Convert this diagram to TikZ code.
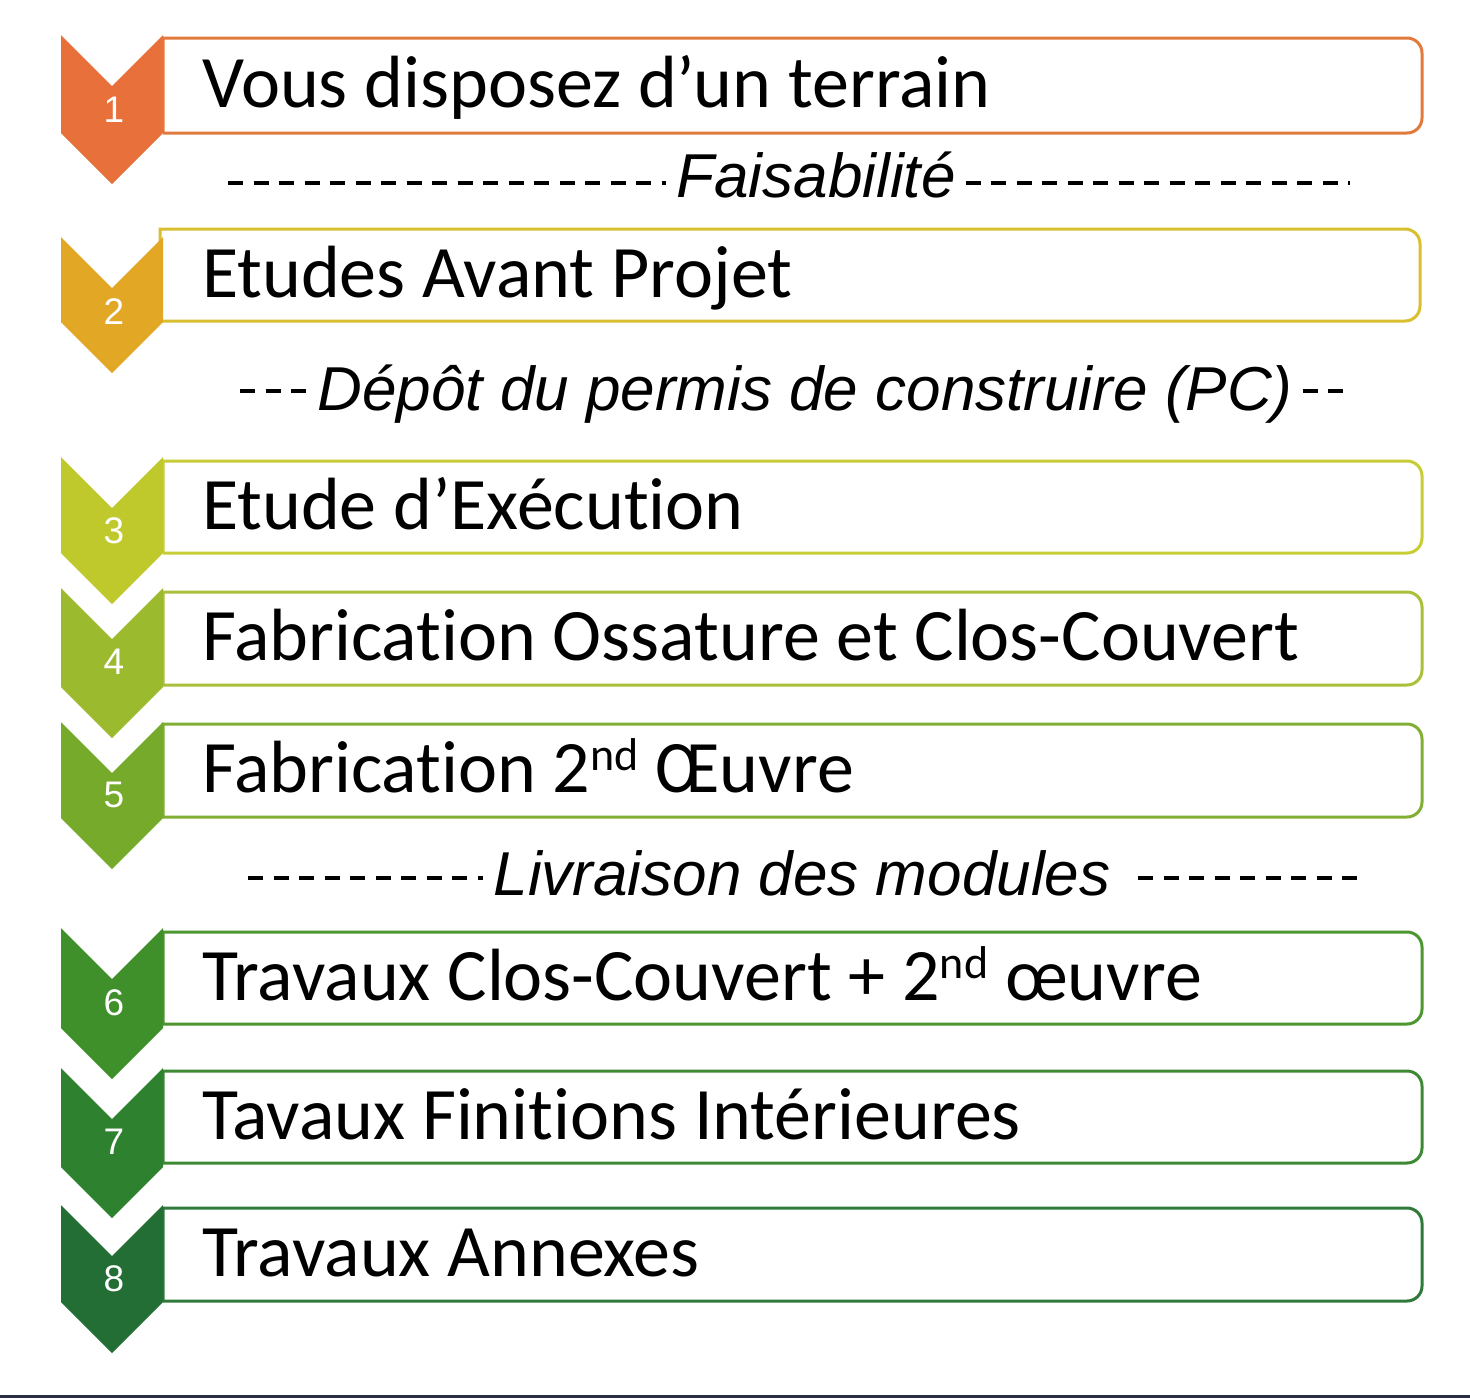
\documentclass[tikz,border=0pt]{standalone}
\usepackage{fontspec}
\setmainfont{Carlito}[Ligatures=NoCommon]
\newfontfamily\labelfont{Liberation Sans}
\usepackage{xcolor}
\definecolor{chev1}{HTML}{E8703A}
\definecolor{chev2}{HTML}{E2A725}
\definecolor{chev3}{HTML}{BFC92C}
\definecolor{chev4}{HTML}{9CBA2E}
\definecolor{chev5}{HTML}{76AA2A}
\definecolor{chev6}{HTML}{3F8F2A}
\definecolor{chev7}{HTML}{2E812F}
\definecolor{chev8}{HTML}{226E35}
\definecolor{line1}{HTML}{E27A3E}
\definecolor{line2}{HTML}{D9BE30}
\definecolor{line3}{HTML}{C8CD35}
\definecolor{line4}{HTML}{A9C03A}
\definecolor{line5}{HTML}{80AF33}
\definecolor{line6}{HTML}{4E962F}
\definecolor{line7}{HTML}{3D8934}
\definecolor{line8}{HTML}{2F7A3A}
\definecolor{rulecol}{HTML}{2A3042}
\newcommand{\nd}{\raisebox{22pt}{\fontsize{46}{46}\selectfont nd}}

\begin{document}
\begin{tikzpicture}[
    x=1pt, y=-1pt,
    stagebox/.style={line width=3pt},
    num/.style={text=white, inner sep=0pt, font=\labelfont\fontsize{37}{37}\selectfont},
    stage/.style={anchor=base west, inner sep=0pt, font=\fontsize{74}{74}\selectfont},
    phase/.style={anchor=base, inner xsep=10pt, inner ysep=0pt, font=\labelfont\itshape\fontsize{62}{62}\selectfont},
    dashline/.style={line width=3.5pt, dash pattern=on 15pt off 10.5pt}
]
    \fill[white] (0,0) rectangle (1470,1398);
    \useasboundingbox (0,0) rectangle (1470,1398);

    % boxes
    \draw[stagebox, draw=line1] (163,133) -- (163,38) [rounded corners=15pt] -| (1422,133) -- (163,133);
    \draw[stagebox, draw=line2] (160,321) -- (160,229) [rounded corners=15pt] -| (1420,321) -- (160,321);
    \draw[stagebox, draw=line3] (163,553) -- (163,461) [rounded corners=15pt] -| (1422,553) -- (163,553);
    \draw[stagebox, draw=line4] (163,685) -- (163,592) [rounded corners=15pt] -| (1422,685) -- (163,685);
    \draw[stagebox, draw=line5] (163,817) -- (163,724) [rounded corners=15pt] -| (1422,817) -- (163,817);
    \draw[stagebox, draw=line6] (163,1024) -- (163,932) [rounded corners=15pt] -| (1422,1024) -- (163,1024);
    \draw[stagebox, draw=line7] (163,1163) -- (163,1071) [rounded corners=15pt] -| (1422,1163) -- (163,1163);
    \draw[stagebox, draw=line8] (163,1301) -- (163,1208) [rounded corners=15pt] -| (1422,1301) -- (163,1301);

    % chevrons
    \fill[chev1] (61,35) -- ++(51,51) -- ++(51,-51) -- ++(0,98) -- ++(-51,51) -- ++(-51,-51) -- cycle;
    \fill[chev2] (61,237) -- ++(51,51) -- ++(51,-51) -- ++(0,85) -- ++(-51,51) -- ++(-51,-51) -- cycle;
    \fill[chev3] (61,457) -- ++(51,51) -- ++(51,-51) -- ++(0,96) -- ++(-51,51) -- ++(-51,-51) -- cycle;
    \fill[chev4] (61,588) -- ++(51,51) -- ++(51,-51) -- ++(0,99) -- ++(-51,51) -- ++(-51,-51) -- cycle;
    \fill[chev5] (61,722) -- ++(51,51) -- ++(51,-51) -- ++(0,96) -- ++(-51,51) -- ++(-51,-51) -- cycle;
    \fill[chev6] (61,928) -- ++(51,51) -- ++(51,-51) -- ++(0,100) -- ++(-51,51) -- ++(-51,-51) -- cycle;
    \fill[chev7] (61,1068) -- ++(51,51) -- ++(51,-51) -- ++(0,99) -- ++(-51,51) -- ++(-51,-51) -- cycle;
    \fill[chev8] (61,1205) -- ++(51,51) -- ++(51,-51) -- ++(0,97) -- ++(-51,51) -- ++(-51,-51) -- cycle;

    \node[num] (n1) at (114,110) {1};
    \node[num] (n2) at (114,312) {2};
    \node[num] (n3) at (114,531) {3};
    \node[num] (n4) at (114,662) {4};
    \node[num] (n5) at (114,795) {5};
    \node[num] (n6) at (114,1003) {6};
    \node[num] (n7) at (114,1142) {7};
    \node[num] (n8) at (114,1279) {8};

    \node[stage] (terrain) at (202,107.5) {Vous disposez d’un terrain};
    \node[stage] (avp) at (202,297) {Etudes Avant Projet};
    \node[stage] (exe) at (202,529) {Etude d’Exécution};
    \node[stage] (ossature) at (202,660.5) {Fabrication Ossature et Clos-Couvert};
    \node[stage] (oeuvre) at (202,792.5) {Fabrication 2\nd{} Œuvre};
    \node[stage] (travaux) at (202,1000) {Travaux Clos-Couvert + 2\nd{} œuvre};
    \node[stage] (finitions) at (202,1139) {Tavaux Finitions Intérieures};
    \node[stage] (annexes) at (202,1276.5) {Travaux Annexes};

    % phases
    \node[phase] (fais) at (816,197) {Faisabilité};
    \coordinate (fais-l) at (228,183);
    \coordinate (fais-r) at (1350,183);
    \draw[dashline] (fais-l) -- (fais-l -| fais.west);
    \draw[dashline] (fais.east |- fais-r) -- (fais-r);

    \node[phase] (pc) at (805,410) {Dépôt du permis de construire (PC)};
    \coordinate (pc-l) at (240,391);
    \coordinate (pc-r) at (1352,391);
    \draw[dashline] (pc-l) -- (pc-l -| pc.west);
    \draw[dashline] (pc.east |- pc-r) -- (pc-r);

    \node[phase] (livr) at (802,895) {Livraison des modules};
    \coordinate (livr-l) at (248,878);
    \coordinate (livr-m) at (1138,878);
    \coordinate (livr-r) at (1362,878);
    \draw[dashline] (livr-l) -- (livr-l -| livr.west);
    \draw[dashline] (livr-m) -- (livr-r);

    \draw[line width=3pt, rulecol] (0,1396.5) -- (1470,1396.5);
\end{tikzpicture}
\end{document}
